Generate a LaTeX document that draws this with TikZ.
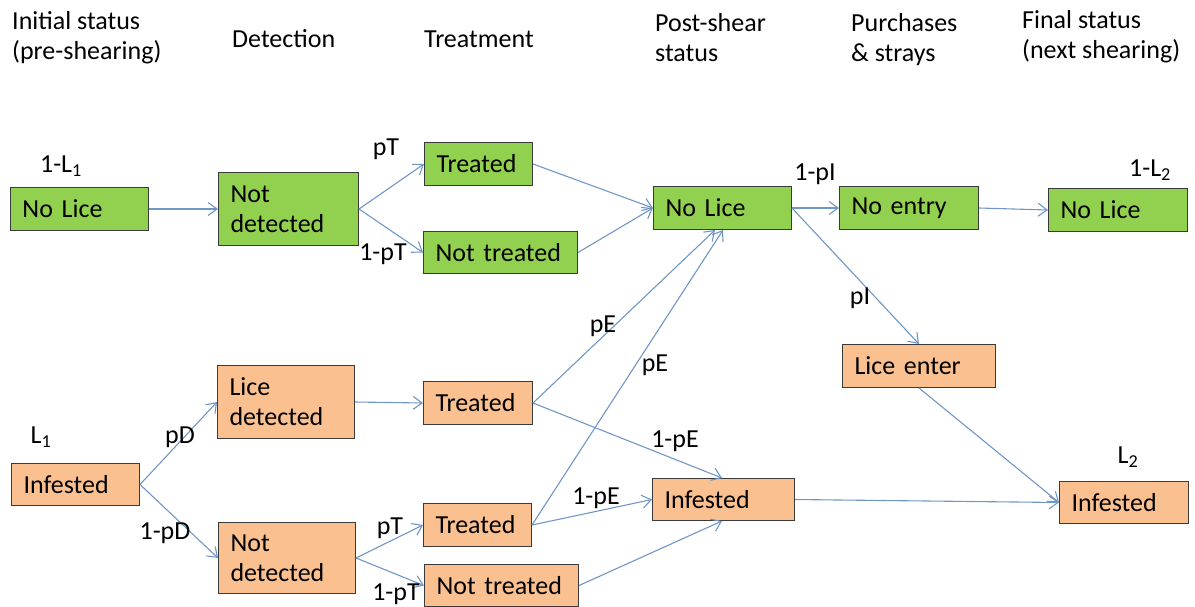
\documentclass[tikz,border=0pt]{standalone}
\usepackage{fontspec}
\setmainfont{Carlito}
\usetikzlibrary{arrows.meta}
\definecolor{licegreen}{HTML}{92D050}
\definecolor{liceorange}{HTML}{FAC090}
\definecolor{boxink}{HTML}{3A3A3A}
\definecolor{flowblue}{HTML}{7096C8}

\begin{document}
\begin{tikzpicture}[x=1pt,y=-1pt,
    font=\fontsize{26}{30}\selectfont,
    state/.style={draw=boxink,line width=1pt,anchor=north west,align=left,
      inner xsep=12pt,inner ysep=0pt},
    clean/.style={state,fill=licegreen},
    lousy/.style={state,fill=liceorange},
    flow/.style={-{Straight Barb[length=9pt,width=13pt]},flowblue,line width=1.1pt},
    prob/.style={inner sep=0pt},
    stage/.style={inner sep=0pt,anchor=base west,align=left}]
  \useasboundingbox (0,0) rectangle (1195,606);

  % column headings (base = last line)
  \node[stage] (h0) at (12,59) {Initial status\\(pre-shearing)};
  \node[stage] (h1) at (232,47) {Detection};
  \node[stage] (h2) at (424,47) {Treatment};
  \node[stage] (h3) at (655,61) {Post-shear\\status};
  \node[stage] (h4) at (851,61) {Purchases\\\& strays};
  \node[stage] (h5) at (1022,58) {Final status\\(next shearing)};

  % upper branch (no lice)
  \node[clean,text width=114pt,minimum height=43pt] (nl0) at (10,187) {No Lice};
  \node[clean,text width=116pt,minimum height=73pt] (nd0) at (218,172) {Not\\detected};
  \node[clean,text width=84pt,minimum height=43pt] (tr0) at (424,142) {Treated};
  \node[clean,text width=130pt,minimum height=42pt] (nt0) at (423,231) {Not treated};
  \node[clean,text width=114pt,minimum height=43pt] (nl1) at (653,186) {No Lice};
  \node[clean,text width=115pt,minimum height=43pt] (ne) at (839,186) {No entry};
  \node[clean,text width=115pt,minimum height=43pt] (nl2) at (1048,188) {No Lice};

  % lower branch (infested)
  \node[lousy,text width=104pt,minimum height=42pt] (inf0) at (11,463) {Infested};
  \node[lousy,text width=113pt,minimum height=73pt] (ld) at (217,365) {Lice\\detected};
  \node[lousy,text width=85pt,minimum height=43pt] (tr1) at (423,381) {Treated};
  \node[lousy,text width=113pt,minimum height=71pt] (nd1) at (218,522) {Not\\detected};
  \node[lousy,text width=84pt,minimum height=43pt] (tr2) at (423,503) {Treated};
  \node[lousy,text width=130pt,minimum height=42pt] (nt1) at (424,564) {Not treated};
  \node[lousy,text width=118pt,minimum height=42pt] (inf1) at (652,478) {Infested};
  \node[lousy,text width=129pt,minimum height=43pt] (le) at (842,344) {Lice enter};
  \node[lousy,text width=105pt,minimum height=42pt] (inf2) at (1059,481) {Infested};

  % flows
  \draw[flow] (nl0.east) -- (nd0.west);
  \draw[flow] (nd0.east) -- (tr0.west);
  \draw[flow] (nd0.east) -- (nt0.west);
  \draw[flow] (tr0.east) -- (nl1.west);
  \draw[flow] (nt0.east) -- (nl1.west);
  \draw[flow] (nl1.east) -- (ne.west);
  \draw[flow] (ne.east) -- (nl2.west);
  \draw[flow] (nl1.east) -- (le.north);
  \draw[flow] (inf0.east) -- (ld.west);
  \draw[flow] (inf0.east) -- (nd1.west);
  \draw[flow] (ld.east) -- (tr1.west);
  \draw[flow] (nd1.east) -- (tr2.west);
  \draw[flow] (nd1.east) -- (nt1.west);
  \draw[flow] (tr1.east) -- ([xshift=62pt]nl1.south west);
  \draw[flow] (tr2.east) -- ([xshift=70pt]nl1.south west);
  \draw[flow] (tr1.east) -- ([xshift=70pt]inf1.north west);
  \draw[flow] (tr2.east) -- (inf1.west);
  \draw[flow] (nt1.east) -- ([xshift=70pt]inf1.south west);
  \draw[flow] (inf1.east) -- (inf2.west);
  \draw[flow] (le.south) -- (inf2.west);

  % probabilities
  \node[prob] (p1l1) at (61,166) {1-L\textsubscript{1}};
  \node[prob] (pl1) at (41,437) {L\textsubscript{1}};
  \node[prob] (ppt0) at (386,149) {pT};
  \node[prob] (pnt0) at (383,254) {1-pT};
  \node[prob] (pni) at (815,174) {1-pI};
  \node[prob] (p1l2) at (1150,170) {1-L\textsubscript{2}};
  \node[prob] (ppi) at (860,298) {pI};
  \node[prob] (ppd) at (180,437) {pD};
  \node[prob] (pnd) at (165,533) {1-pD};
  \node[prob] (ppe1) at (603,326) {pE};
  \node[prob] (ppe2) at (655,365) {pE};
  \node[prob] (pne1) at (675,441) {1-pE};
  \node[prob] (pne2) at (596,498) {1-pE};
  \node[prob] (ppt1) at (390,528) {pT};
  \node[prob] (pnt1) at (396,594) {1-pT};
  \node[prob] (pl2) at (1128,457) {L\textsubscript{2}};
\end{tikzpicture}
\end{document}
